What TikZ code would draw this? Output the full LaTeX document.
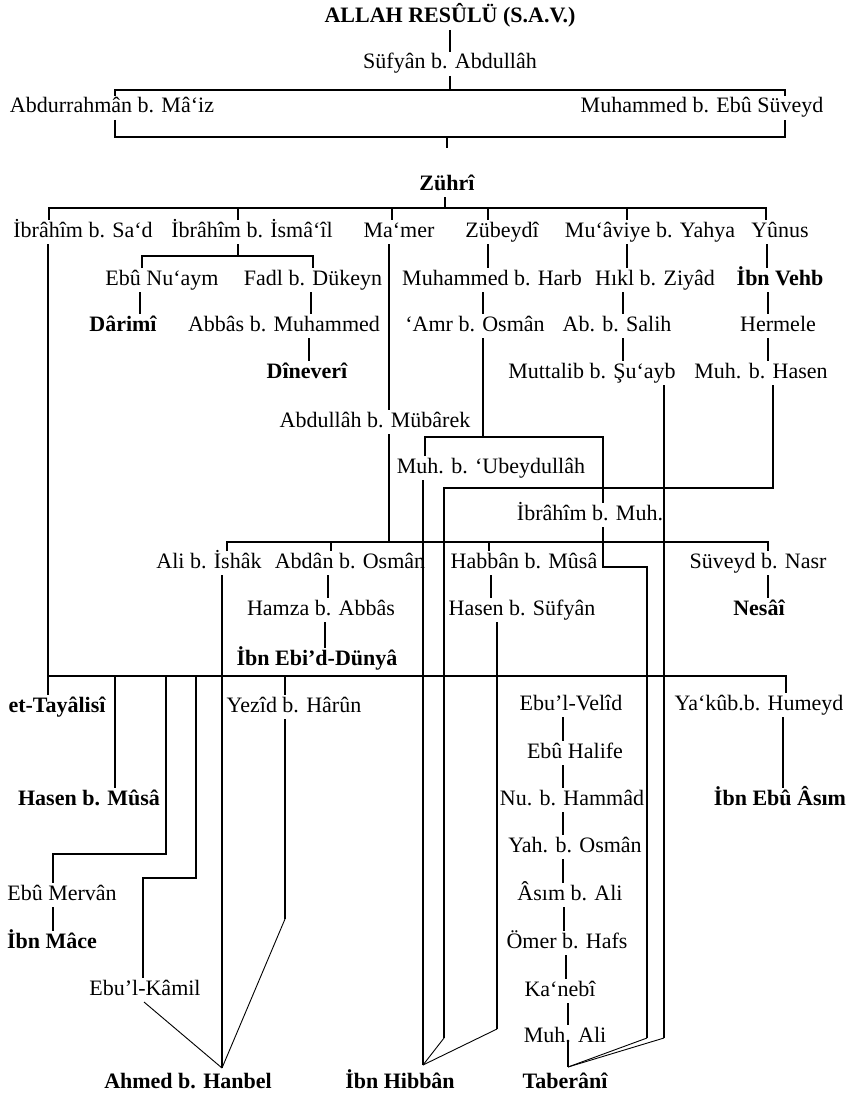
\documentclass[tikz,border=0pt]{standalone}
\usepackage{fontspec}
\setmainfont{Liberation Serif}
\begin{document}
\begin{tikzpicture}[x=1pt,y=-1pt,
  n/.style={inner sep=0pt, outer sep=2pt, text height=15pt, text depth=5pt, font=\fontsize{22}{26}\selectfont},
  b/.style={n, font=\fontsize{22}{26}\selectfont\bfseries},
  ln/.style={line width=1.8pt},
  dg/.style={line width=0.9pt}]
\useasboundingbox (0,0) rectangle (852,1097);
% ---- nodes
\node[b] (allah) at (450,18) {ALLAH RESÛLÜ (S.A.V.)};
\node[n] (sufyan) at (450,64) {Süfyân b. Abdullâh};
\node[n] (abdurr) at (112,108) {Abdurrahmân b. Mâ‘iz};
\node[n] (muhebu) at (702,108) {Muhammed b. Ebû Süveyd};
\node[b] (zuhri) at (447,185) {Zührî};
% row 1
\node[n] (ibsad) at (83,232) {İbrâhîm b. Sa‘d};
\node[n] (ibism) at (252,232) {İbrâhîm b. İsmâ‘îl};
\node[n] (mamer) at (399,232) {Ma‘mer};
\node[n] (zubey) at (502,232) {Zübeydî};
\node[n] (muav) at (650,232) {Mu‘âviye b. Yahya};
\node[n] (yunus) at (780,232) {Yûnus};
% row 2
\node[n] (ebunu) at (162,280) {Ebû Nu‘aym};
\node[n] (fadl) at (313,280) {Fadl b. Dükeyn};
\node[n] (muhharb) at (492,280) {Muhammed b. Harb};
\node[n] (hikl) at (655,280) {Hıkl b. Ziyâd};
\node[b] (ibnvehb) at (780,280) {İbn Vehb};
% row 3
\node[b] (darimi) at (123,326) {Dârimî};
\node[n] (abbas) at (284,326) {Abbâs b. Muhammed};
\node[n] (amr) at (475,326) {‘Amr b. Osmân};
\node[n] (absalih) at (617,326) {Ab. b. Salih};
\node[n] (hermele) at (778,326) {Hermele};
% row 4
\node[b] (dineveri) at (307,373) {Dîneverî};
\node[n] (muttalib) at (592,373) {Muttalib b. Şu‘ayb};
\node[n] (muhhasen) at (761,373) {Muh. b. Hasen};
% middle
\node[n] (mubarek) at (375,422) {Abdullâh b. Mübârek};
\node[n] (ubeyd) at (491,468) {Muh. b. ‘Ubeydullâh};
\node[n] (ibmuh) at (590,515) {İbrâhîm b. Muh.};
\node[n] (ali) at (209,563) {Ali b. İshâk};
\node[n] (abdan) at (350,563) {Abdân b. Osmân};
\node[n] (habban) at (524,563) {Habbân b. Mûsâ};
\node[n] (suveyd) at (758,563) {Süveyd b. Nasr};
\node[n] (hamza) at (321,610) {Hamza b. Abbâs};
\node[n] (hasens) at (522,610) {Hasen b. Süfyân};
\node[b] (nesai) at (759,610) {Nesâî};
\node[b] (dunya) at (317,660) {İbn Ebi’d-Dünyâ};
% lower
\node[b] (tayalisi) at (57,707) {et-Tayâlisî};
\node[n] (yezid) at (294,707) {Yezîd b. Hârûn};
\node[n] (yakub) at (759,705) {Ya‘kûb.b. Humeyd};
\node[b] (hasenm) at (89,800) {Hasen b. Mûsâ};
\node[b] (ibnebuasim) at (780,800) {İbn Ebû Âsım};
\node[n] (ebumervan) at (62,895) {Ebû Mervân};
\node[b] (ibnmace) at (52,943) {İbn Mâce};
\node[n] (kamil) at (145,990) {Ebu’l-Kâmil};
% Taberani chain
\node[n] (velid) at (571,705) {Ebu’l-Velîd};
\node[n] (halife) at (575,753) {Ebû Halife};
\node[n] (nuham) at (572,800) {Nu. b. Hammâd};
\node[n] (yahos) at (575,847) {Yah. b. Osmân};
\node[n] (asim) at (570,895) {Âsım b. Ali};
\node[n] (omer) at (567,943) {Ömer b. Hafs};
\node[n] (kanebi) at (560,991) {Ka‘nebî};
\node[n] (muhali) at (565,1037) {Muh. Ali};
% bottom
\node[b] (ahmed) at (188,1083) {Ahmed b. Hanbel};
\node[b] (hibban) at (400,1083) {İbn Hibbân};
\node[b] (taberani) at (565,1083) {Taberânî};
\coordinate (aapex) at (222,1068);
\coordinate (hapex) at (423,1065);
\coordinate (tapex) at (568,1067);
% ---- connectors
\draw[ln] (allah.south) -- (sufyan.north);
\draw[ln] (sufyan.south) -- (450,90);
\draw[ln] (115,0 |- abdurr.north) -- (115,90) -- (785,90) -- (785,0 |- muhebu.north);
\draw[ln] (115,0 |- abdurr.south) -- (115,137) -- (785,137) -- (785,0 |- muhebu.south);
\draw[ln] (447,137) -- (447,148);
% Zuhri bus
\draw[ln] (445,0 |- zuhri.south) -- (445,208);
\draw[ln] (49,0 |- ibsad.north) -- (49,208) -- (766,208) -- (766,0 |- yunus.north);
\foreach \x/\n in {238/ibism,392/mamer,488/zubey,627/muav}
  \draw[ln] (\x,208) -- (\x,0 |- \n.north);
% Ismail
\draw[ln] (238,0 |- ibism.south) -- (238,256);
\draw[ln] (142,0 |- ebunu.north) -- (142,256) -- (313,256) -- (313,0 |- fadl.north);
% simple verticals
\foreach \x/\a/\c in {488/zubey/muhharb,627/muav/hikl,767/yunus/ibnvehb,
   140/ebunu/darimi,311/fadl/abbas,483/muhharb/amr,623/hikl/absalih,768/ibnvehb/hermele,
   309/abbas/dineveri,623/absalih/muttalib,768/hermele/muhhasen,389/mamer/mubarek,
   328/abdan/hamza,491/habban/hasens,768/suveyd/nesai,325/hamza/dunya,
   53/ebumervan/ibnmace,783/yakub/ibnebuasim,
   563/velid/halife,563/halife/nuham,563/nuham/yahos,563/yahos/asim,564/asim/omer,
   566/omer/kanebi,568/kanebi/muhali}
  \draw[ln] (\x,0 |- \a.south) -- (\x,0 |- \c.north);
% Mubarek down to bus
\draw[ln] (389,0 |- mubarek.south) -- (389,542);
% Amr branch
\draw[ln] (483,0 |- amr.south) -- (483,437);
\draw[ln] (425,0 |- ubeyd.north) -- (425,437) -- (603,437) -- (603,0 |- ibmuh.north);
% Muh. b. Hasen to Ibn Hibban
\draw[ln] (773,0 |- muhhasen.south) -- (773,488) -- (444,488) -- (444,1038);
\draw[dg] (444,1038) -- (hapex);
% Ubeydullah to Ibn Hibban
\draw[ln] (423,0 |- ubeyd.south) -- (hapex);
% Muttalib to Taberani
\draw[ln] (664,0 |- muttalib.south) -- (664,1038);
\draw[dg] (664,1038) -- (tapex);
% Ibrahim b. Muh. to Taberani
\draw[ln] (603,0 |- ibmuh.south) -- (603,567) -- (647,567) -- (647,1038);
\draw[dg] (647,1038) -- (tapex);
% Mubarek bus
\draw[ln] (227,0 |- ali.north) -- (227,542) -- (768,542) -- (768,0 |- suveyd.north);
\foreach \x/\n in {331/abdan,489/habban}
  \draw[ln] (\x,542) -- (\x,0 |- \n.north);
% Hasen b. Sufyan to Ibn Hibban
\draw[ln] (497,0 |- hasens.south) -- (497,1029);
\draw[dg] (497,1029) -- (hapex);
% Ali to Ahmed
\draw[ln] (222,0 |- ali.south) -- (aapex);
% big bus
\draw[ln] (48,0 |- ibsad.south) -- (48,0 |- tayalisi.north);
\draw[ln] (48,676) -- (786,676) -- (786,0 |- yakub.north);
\draw[ln] (285,676) -- (285,0 |- yezid.north);
\draw[ln] (115,676) -- (115,0 |- hasenm.north);
\draw[ln] (166,676) -- (166,854) -- (53,854) -- (53,0 |- ebumervan.north);
\draw[ln] (196,676) -- (196,878) -- (143,878) -- (143,0 |- kamil.north);
\draw[dg] (144,0 |- kamil.south) -- (aapex);
\draw[ln] (285,0 |- yezid.south) -- (285,919);
\draw[dg] (285,919) -- (aapex);
% Muh. Ali to Taberani
\draw[ln] (568,0 |- muhali.base) -- (tapex);
\end{tikzpicture}
\end{document}
